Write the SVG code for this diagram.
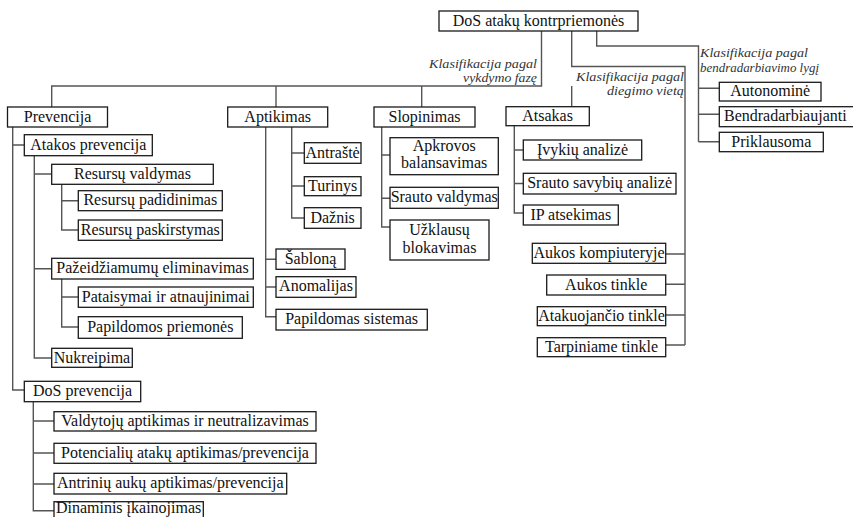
<svg xmlns="http://www.w3.org/2000/svg" width="853" height="517" viewBox="0 0 853 517">
<style>
.box{fill:#fff;stroke:#1a1a1a;stroke-width:1.3}
.ln{fill:none;stroke:#555;stroke-width:1.4}
text{font-family:"Liberation Serif","Times New Roman",serif;font-size:16px;fill:#111}
.t{text-anchor:middle}
.l{text-anchor:start}
.lab{font-style:italic;font-size:12.5px;fill:#333}
.r{text-anchor:end}
</style>
<rect width="853" height="517" fill="#fff"/>
<g id="connectors">
<path class="ln" d="M541.5 31V86H51.7V107M276 86V107M421.7 86V107M571.7 86V107"/>
<path class="ln" d="M571.7 31V66.5H685V345"/>
<path class="ln" d="M596.7 31V46H698.5V141.7"/>
<path class="ln" d="M12.7 127V390H24.3M12.7 145H24.3"/>
<path class="ln" d="M34.3 155.7V358H51.7M34.3 174H51.7M34.3 268.7H51.7"/>
<path class="ln" d="M61.7 184.3V230H78.3M61.7 200.7H78.3"/>
<path class="ln" d="M61.7 279V327H78.3M61.7 297H78.3"/>
<path class="ln" d="M33.3 401.7V510.7H54M33.3 421H54M33.3 453H54M33.3 484H54"/>
<path class="ln" d="M265.7 127V316.7H276M265.7 259.3H276M265.7 287H276"/>
<path class="ln" d="M291.7 127V218H304.3M291.7 153H304.3M291.7 186H304.3"/>
<path class="ln" d="M381.7 127V227H390M381.7 155H390M381.7 198.3H390"/>
<path class="ln" d="M514.3 125V213H523.3M514.3 150H523.3M514.3 183.5H523.3"/>
<path class="ln" d="M665.7 254H685M665.7 284.3H685M665.7 315H685M665.7 345H685"/>
<path class="ln" d="M698.5 88.3H719.3M698.5 114.3H719.3M698.5 141.7H719.3"/>
</g>
<g id="labels">
<text class="lab r" x="537" y="67.5" textLength="108" lengthAdjust="spacingAndGlyphs">Klasifikacija pagal</text>
<text class="lab r" x="537" y="81.5" textLength="74" lengthAdjust="spacingAndGlyphs">vykdymo fazę</text>
<text class="lab r" x="684" y="80.5" textLength="108" lengthAdjust="spacingAndGlyphs">Klasifikacija pagal</text>
<text class="lab r" x="684" y="95" textLength="77" lengthAdjust="spacingAndGlyphs">diegimo vietą</text>
<text class="lab l" x="700" y="57" textLength="108" lengthAdjust="spacingAndGlyphs">Klasifikacija pagal</text>
<text class="lab l" x="700" y="71.5" textLength="119" lengthAdjust="spacingAndGlyphs">bendradarbiavimo lygį</text>
</g>
<g id="root"><rect class="box" x="439" y="11" width="199" height="20"/><text class="t" x="538.5" y="25.5">DoS atakų kontrpriemonės</text></g>
<g id="prevencija"><rect class="box" x="7.5" y="107" width="100" height="20"/><text class="t" x="57.5" y="121.5">Prevencija</text></g>
<g id="aptikimas"><rect class="box" x="227.7" y="107" width="100" height="20"/><text class="t" x="277.7" y="121.5">Aptikimas</text></g>
<g id="slopinimas"><rect class="box" x="374" y="107" width="101" height="20"/><text class="t" x="424.5" y="121.5">Slopinimas</text></g>
<g id="atsakas"><rect class="box" x="506" y="106.7" width="83.3" height="19"/><text class="t" x="547.6" y="121">Atsakas</text></g>

<g id="atakos-prevencija"><rect class="box" x="24.3" y="134.7" width="128" height="21"/><text class="t" x="88.3" y="149.7">Atakos prevencija</text></g>
<g id="resursu-valdymas"><rect class="box" x="51.7" y="164.3" width="161.6" height="20"/><text class="t" x="132.5" y="178.8">Resursų valdymas</text></g>
<g id="resursu-padidinimas"><rect class="box" x="78.3" y="190.7" width="144" height="20"/><text class="t" x="150.3" y="205.2">Resursų padidinimas</text></g>
<g id="resursu-paskirstymas"><rect class="box" x="78.3" y="220" width="144" height="20.3"/><text class="t" x="150.3" y="234.5">Resursų paskirstymas</text></g>
<g id="pazeidziamumu"><rect class="box" x="51.7" y="258.3" width="201.6" height="20.7"/><text class="t" x="152.5" y="273">Pažeidžiamumų eliminavimas</text></g>
<g id="pataisymai"><rect class="box" x="78.3" y="287" width="175" height="20.3"/><text class="t" x="165.8" y="301.5">Pataisymai ir atnaujinimai</text></g>
<g id="papildomos"><rect class="box" x="78.3" y="316.7" width="164" height="21.6"/><text class="t" x="160.3" y="331.8">Papildomos priemonės</text></g>
<g id="nukreipima"><rect class="box" x="51.7" y="348.3" width="80.6" height="19"/><text class="t" x="92" y="362.5">Nukreipima</text></g>
<g id="dos-prevencija"><rect class="box" x="24.3" y="381.3" width="116.4" height="20.4"/><text class="t" x="82.5" y="395.8">DoS prevencija</text></g>
<g id="valdytoju"><rect class="box" x="54" y="411.7" width="262" height="19.3"/><text class="t" x="185" y="425.8">Valdytojų aptikimas ir neutralizavimas</text></g>
<g id="potencialiu"><rect class="box" x="54" y="443.3" width="262" height="20"/><text class="t" x="185" y="457.8">Potencialių atakų aptikimas/prevencija</text></g>
<g id="antriniu"><rect class="box" x="54" y="473.3" width="232.7" height="20.7"/><text class="t" x="170.3" y="488">Antrinių aukų aptikimas/prevencija</text></g>
<g id="dinaminis"><rect class="box" x="54" y="501.7" width="149.3" height="20"/><text class="t" x="128.6" y="513">Dinaminis įkainojimas</text></g>

<g id="antraste"><rect class="box" x="304.3" y="142.7" width="56.7" height="20.6"/><text class="t" x="332.6" y="157.5">Antraštė</text></g>
<g id="turinys"><rect class="box" x="304.3" y="176.7" width="56.7" height="19"/><text class="t" x="332.6" y="190.8">Turinys</text></g>
<g id="daznis"><rect class="box" x="304.3" y="207.7" width="56.7" height="20.6"/><text class="t" x="332.6" y="222.5">Dažnis</text></g>
<g id="sablona"><rect class="box" x="276" y="249" width="69" height="20.3"/><text class="t" x="310.5" y="263.5">Šabloną</text></g>
<g id="anomalijas"><rect class="box" x="276" y="276.7" width="80" height="20.6"/><text class="t" x="316" y="291.3">Anomalijas</text></g>
<g id="papildomas-sistemas"><rect class="box" x="276" y="309.3" width="151.3" height="20.7"/><text class="t" x="351.6" y="324">Papildomas sistemas</text></g>

<g id="apkrovos"><rect class="box" x="390" y="137.7" width="108.3" height="37"/><text class="t" x="444.2" y="151">Apkrovos</text><text class="t" x="444.2" y="168">balansavimas</text></g>
<g id="srauto-valdymas"><rect class="box" x="390" y="187.3" width="108.3" height="21"/><text class="t" x="444.2" y="202.3">Srauto valdymas</text></g>
<g id="uzklausu"><rect class="box" x="390" y="220" width="99" height="40"/><text class="t" x="439.5" y="235">Užklausų</text><text class="t" x="439.5" y="253">blokavimas</text></g>

<g id="ivykiu"><rect class="box" x="523.3" y="140" width="118.4" height="20"/><text class="t" x="582.5" y="154.5">Įvykių analizė</text></g>
<g id="srauto-savybiu"><rect class="box" x="523.3" y="173.3" width="152.7" height="20.7"/><text class="t" x="599.6" y="188">Srauto savybių analizė</text></g>
<g id="ip"><rect class="box" x="523.3" y="205" width="95" height="20"/><text class="t" x="570.8" y="219.5">IP atsekimas</text></g>

<g id="aukos-kompiuteryje"><rect class="box" x="532.3" y="243.3" width="133.4" height="20"/><text class="t" x="599" y="257.8">Aukos kompiuteryje</text></g>
<g id="aukos-tinkle"><rect class="box" x="546.7" y="275" width="119" height="20"/><text class="t" x="606.2" y="289.5">Aukos tinkle</text></g>
<g id="atakuojancio"><rect class="box" x="537.3" y="306.7" width="128.4" height="19"/><text class="t" x="601.5" y="320.7">Atakuojančio tinkle</text></g>
<g id="tarpiniame"><rect class="box" x="537.3" y="337.7" width="128.4" height="19"/><text class="t" x="601.5" y="351.7">Tarpiniame tinkle</text></g>

<g id="autonomine"><rect class="box" x="719.3" y="82.3" width="101.7" height="18.7"/><text class="t" x="770.2" y="96.3">Autonominė</text></g>
<g id="bendradarbiaujanti"><rect class="box" x="719.3" y="106.7" width="140" height="20"/><text class="l" x="724" y="121">Bendradarbiaujanti</text></g>
<g id="priklausoma"><rect class="box" x="719.3" y="132.3" width="104" height="19.4"/><text class="t" x="771.3" y="146.5">Priklausoma</text></g>
</svg>
